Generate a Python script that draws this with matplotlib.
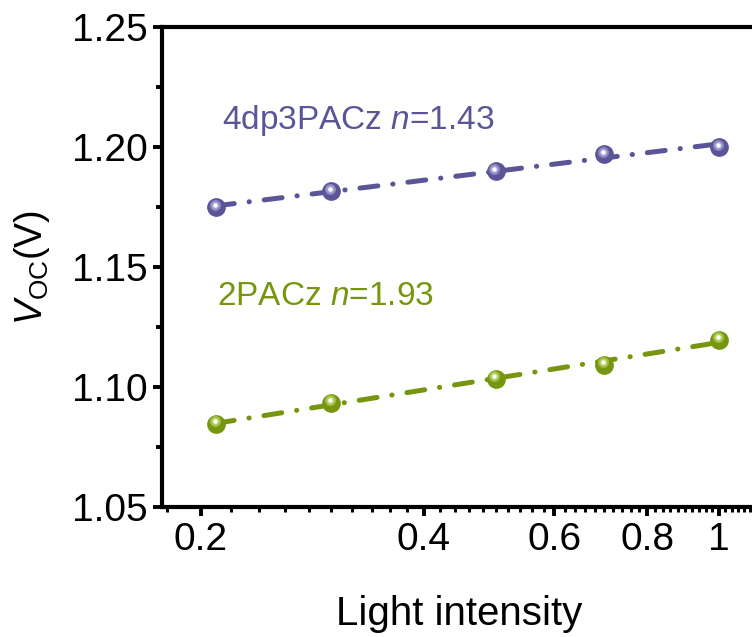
import numpy as np
import matplotlib.pyplot as plt
from matplotlib.ticker import FixedLocator, NullFormatter
from matplotlib.transforms import ScaledTranslation

plt.rcParams["font.family"] = ["Liberation Sans", "DejaVu Sans"]
plt.rcParams["mathtext.fontset"] = "custom"
plt.rcParams["mathtext.rm"] = "Liberation Sans"
plt.rcParams["mathtext.it"] = "Liberation Sans:italic"

# data
intensity = [0.21, 0.30, 0.50, 0.70, 1.00]
voc_4dp3 = [1.175, 1.1815, 1.190, 1.197, 1.200]
voc_2pacz = [1.0847, 1.0934, 1.1034, 1.1093, 1.1197]
labels = ["4dp3PACz", "2PACz"]
ideality = ["1.43", "1.93"]
colors = ["#5a5596", "#77960f"]
light = ["#a9a5d6", "#b8d466"]

xticks = [0.2, 0.4, 0.6, 0.8, 1.0]
xticklabels = ["0.2", "0.4", "0.6", "0.8", "1"]

fig = plt.figure(figsize=(7.52, 6.37), dpi=100)
ax = fig.add_axes([162 / 752, 1 - 507 / 637, (756 - 162) / 752, 480 / 637])

x = np.array(intensity)
for y, c, lc in zip([voc_4dp3, voc_2pacz], colors, light):
    y = np.array(y)
    # linear fit of Voc vs ln(I)
    b, a = np.polyfit(np.log(x), y, 1)
    xf = np.linspace(x.min(), x.max(), 50)
    ax.plot(xf, a + b * np.log(xf), color=c, lw=3.6,
            ls=(0, (3.6, 3.0, 0.05, 3.0)), dash_capstyle="round", zorder=2)
    # ball-like markers: base + soft highlight + white spot
    ax.plot(x, y, "o", ms=13.5, color=c, mec="none", zorder=3)
    off = ax.transData + ScaledTranslation(-1.0 / 72, 1.8 / 72, fig.dpi_scale_trans)
    ax.plot(x, y, "o", ms=8, color=lc, mec="none", alpha=0.6, transform=off, zorder=4)
    ax.plot(x, y, "o", ms=5.5, color=lc, mec="none", transform=off, zorder=4)
    ax.plot(x, y, "o", ms=3.2, color="white", mec="none", transform=off, zorder=5)

ax.text(0.2134, 1.2075, labels[0] + " $n$=" + ideality[0], color=colors[0],
        fontsize=24, ha="left", va="baseline")
ax.text(0.2103, 1.1342, labels[1] + " $n$=" + ideality[1], color=colors[1],
        fontsize=24, ha="left", va="baseline")

ax.set_xscale("log")
ax.set_xlim(0.1774, 1.122)
ax.set_ylim(1.05, 1.25)
ax.xaxis.set_major_locator(FixedLocator(xticks))
ax.set_xticklabels(xticklabels)
minor = [v for v in np.arange(0.18, 1.13, 0.02) if min(abs(v - t) for t in xticks) > 1e-6]
ax.xaxis.set_minor_locator(FixedLocator(minor))
ax.xaxis.set_minor_formatter(NullFormatter())
ax.set_yticks(np.arange(1.05, 1.2501, 0.05))
ax.set_yticks(np.arange(1.075, 1.25, 0.05), minor=True)
ax.set_yticklabels([f"{v:.2f}" for v in np.arange(1.05, 1.2501, 0.05)])

for s in ax.spines.values():
    s.set_linewidth(3)
ax.tick_params(axis="both", which="major", direction="out", length=6.5, width=2.8,
               labelsize=28, pad=4)
ax.tick_params(axis="y", which="minor", direction="out", length=4, width=2.8)
ax.tick_params(axis="x", which="minor", direction="out", length=3.5, width=2.2)
ax.tick_params(top=False, right=False, which="both")

ax.set_xlabel("Light intensity", fontsize=29, labelpad=27)
ax.set_ylabel(r"$V_{\mathrm{OC}}$(V)", fontsize=27, labelpad=14)

fig.savefig("out.png", dpi=100)
